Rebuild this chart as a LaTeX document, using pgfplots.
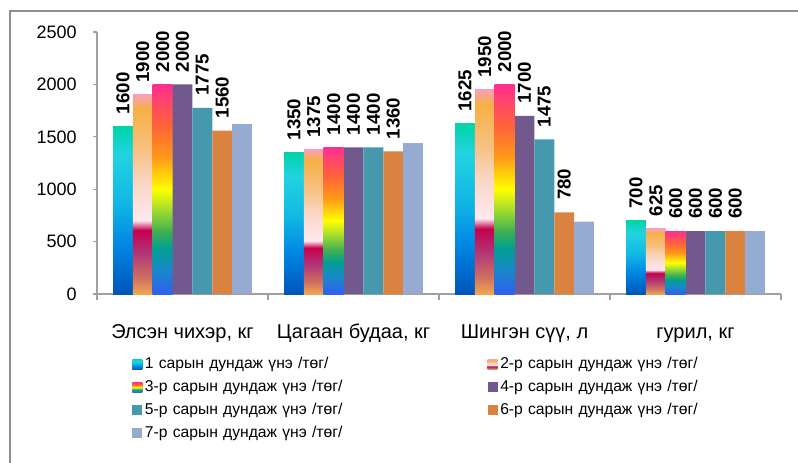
\documentclass[border=0pt]{standalone}
\usepackage{fontspec}
\setmainfont{Liberation Sans}
\usepackage{pgfplots}
\pgfplotsset{compat=1.18}

\definecolor{cfour}{HTML}{71598D}
\definecolor{cfive}{HTML}{4598AE}
\definecolor{csix}{HTML}{DA8340}
\definecolor{cseven}{HTML}{95ABD1}
\definecolor{framegray}{HTML}{8E8E8E}
\definecolor{axisgray}{HTML}{A0A0A0}

% stops for the gradient bars (bottom of bar = 25bp, top = 75bp)
\definecolor{sA1}{HTML}{0055BB}
\definecolor{sA2}{HTML}{0088E4}
\definecolor{sA3}{HTML}{12B8E4}
\definecolor{sA4}{HTML}{22D3E0}
\definecolor{sA5}{HTML}{00D4A8}
\definecolor{sB1}{HTML}{F0A850}
\definecolor{sB2}{HTML}{D07060}
\definecolor{sB3}{HTML}{B03878}
\definecolor{sB4}{HTML}{C4004C}
\definecolor{sB5}{HTML}{FFE8F0}
\definecolor{sB6}{HTML}{FAD8C8}
\definecolor{sB7}{HTML}{F8C080}
\definecolor{sB8}{HTML}{F5B045}
\definecolor{sB9}{HTML}{F8A0B8}
\definecolor{sC1}{HTML}{3060F0}
\definecolor{sC2}{HTML}{1888C8}
\definecolor{sC3}{HTML}{00A090}
\definecolor{sC4}{HTML}{40B050}
\definecolor{sC5}{HTML}{A0DC30}
\definecolor{sC6}{HTML}{FFFF00}
\definecolor{sC7}{HTML}{FF9A18}
\definecolor{sC8}{HTML}{FF6438}
\definecolor{sC9}{HTML}{FF2E90}

\pgfdeclareverticalshading{sone}{100bp}{color(0bp)=(sA1); color(25bp)=(sA1);
  color(40bp)=(sA2); color(52.5bp)=(sA3); color(66.5bp)=(sA4);
  color(75bp)=(sA5); color(100bp)=(sA5)}
\pgfdeclareverticalshading{stwo}{100bp}{color(0bp)=(sB1); color(25bp)=(sB1);
  color(29bp)=(sB2); color(35bp)=(sB3); color(41bp)=(sB4); color(43.5bp)=(sB5);
  color(52.5bp)=(sB6); color(61.5bp)=(sB7); color(71.5bp)=(sB8);
  color(75bp)=(sB9); color(100bp)=(sB9)}
\pgfdeclareverticalshading{sthree}{100bp}{color(0bp)=(sC1); color(25bp)=(sC1);
  color(31bp)=(sC2); color(36bp)=(sC3); color(40bp)=(sC4); color(45bp)=(sC5);
  color(50bp)=(sC6); color(57.5bp)=(sC7); color(65bp)=(sC8);
  color(75bp)=(sC9); color(100bp)=(sC9)}

\begin{document}
\begin{tikzpicture}
\path[use as bounding box] (0,0) rectangle (598.5pt,346.5pt);
\draw[framegray, line width=1.3pt] (7.5pt,-2pt) -- (7.5pt,338.25pt) -- (600pt,338.25pt);
\begin{axis}[
  at={(72.75pt,126pt)}, anchor=south west,
  scale only axis,
  width=513pt, height=196.5pt,
  ybar=0pt, bar width=14.88pt,
  xmin=-0.5, xmax=3.5,
  ymin=0, ymax=2500,
  ytick={0,500,...,2500},
  xtick={0,1,2,3},
  xticklabels={{Элсэн чихэр, кг},{Цагаан будаа, кг},{Шингэн сүү, л},{гурил, кг}},
  minor xtick={-0.5,0.5,1.5,2.5,3.5},
  major x tick style={draw=none},
  minor x tick style={draw=axisgray, line width=0.8pt},
  minor tick length=4.5pt,
  major tick length=3pt,
  tick align=outside,
  ytick style={draw=axisgray, line width=0.8pt},
  axis x line*=bottom, axis y line*=left,
  axis line style={draw=axisgray, line width=1pt},
  /pgf/number format/assume math mode=true,
  /pgf/number format/1000 sep={},
  yticklabel style={font=\fontsize{13.5}{16}\selectfont, inner sep=0pt, xshift=-12pt},
  xticklabel style={font=\fontsize{15}{18}\selectfont, anchor=base, inner sep=0pt, yshift=-30pt},
  every node near coord/.append style={font=\bfseries\fontsize{14}{16}\selectfont,
    rotate=90, anchor=west, inner sep=0pt, xshift=9pt},
  every axis plot/.append style={legend image code/.code={%
    \path[#1, draw=none] (0pt,-3.75pt) rectangle (7.5pt,3.75pt);}},
  legend columns=2,
  legend style={at={(0.0512,-0.2233)}, anchor=north west, draw=none, fill=none,
    inner sep=0pt, column sep=0pt,
    font=\fontsize{11.75}{13}\selectfont,
    nodes={text width=255pt, inner sep=2pt, text height=9.5pt, text depth=3.75pt}},
]
% series 1 (one plot per bar so that each bar gets its own gradient)
\addplot[draw=none, shade, shading=sone, bar shift=-44.64pt, nodes near coords] coordinates {(0,1600)};
\addlegendentry{1 сарын дундаж үнэ /төг/}
% series 2
\addplot[draw=none, shade, shading=stwo, bar shift=-29.76pt, nodes near coords] coordinates {(0,1900)};
\addlegendentry{2-р сарын дундаж үнэ /төг/}
% series 3
\addplot[draw=none, shade, shading=sthree, bar shift=-14.88pt, nodes near coords] coordinates {(0,2000)};
\addlegendentry{3-р сарын дундаж үнэ /төг/}
\addplot[draw=none, fill=cfour, bar shift=0pt, nodes near coords] coordinates {(0,2000) (1,1400) (2,1700) (3,600)};
\addlegendentry{4-р сарын дундаж үнэ /төг/}
\addplot[draw=none, fill=cfive, bar shift=14.88pt, nodes near coords] coordinates {(0,1775) (1,1400) (2,1475) (3,600)};
\addlegendentry{5-р сарын дундаж үнэ /төг/}
\addplot[draw=none, fill=csix, bar shift=29.76pt, nodes near coords] coordinates {(0,1560) (1,1360) (2,780) (3,600)};
\addlegendentry{6-р сарын дундаж үнэ /төг/}
\addplot[draw=none, fill=cseven, bar shift=44.64pt] coordinates {(0,1620) (1,1440) (2,690) (3,600)};
\addlegendentry{7-р сарын дундаж үнэ /төг/}
% remaining gradient bars
\addplot[forget plot, draw=none, shade, shading=sone, bar shift=-44.64pt, nodes near coords] coordinates {(1,1350)};
\addplot[forget plot, draw=none, shade, shading=sone, bar shift=-44.64pt, nodes near coords] coordinates {(2,1625)};
\addplot[forget plot, draw=none, shade, shading=sone, bar shift=-44.64pt, nodes near coords] coordinates {(3,700)};
\addplot[forget plot, draw=none, shade, shading=stwo, bar shift=-29.76pt, nodes near coords] coordinates {(1,1375)};
\addplot[forget plot, draw=none, shade, shading=stwo, bar shift=-29.76pt, nodes near coords] coordinates {(2,1950)};
\addplot[forget plot, draw=none, shade, shading=stwo, bar shift=-29.76pt, nodes near coords] coordinates {(3,625)};
\addplot[forget plot, draw=none, shade, shading=sthree, bar shift=-14.88pt, nodes near coords] coordinates {(1,1400)};
\addplot[forget plot, draw=none, shade, shading=sthree, bar shift=-14.88pt, nodes near coords] coordinates {(2,2000)};
\addplot[forget plot, draw=none, shade, shading=sthree, bar shift=-14.88pt, nodes near coords] coordinates {(3,600)};
\end{axis}
\end{tikzpicture}
\end{document}
